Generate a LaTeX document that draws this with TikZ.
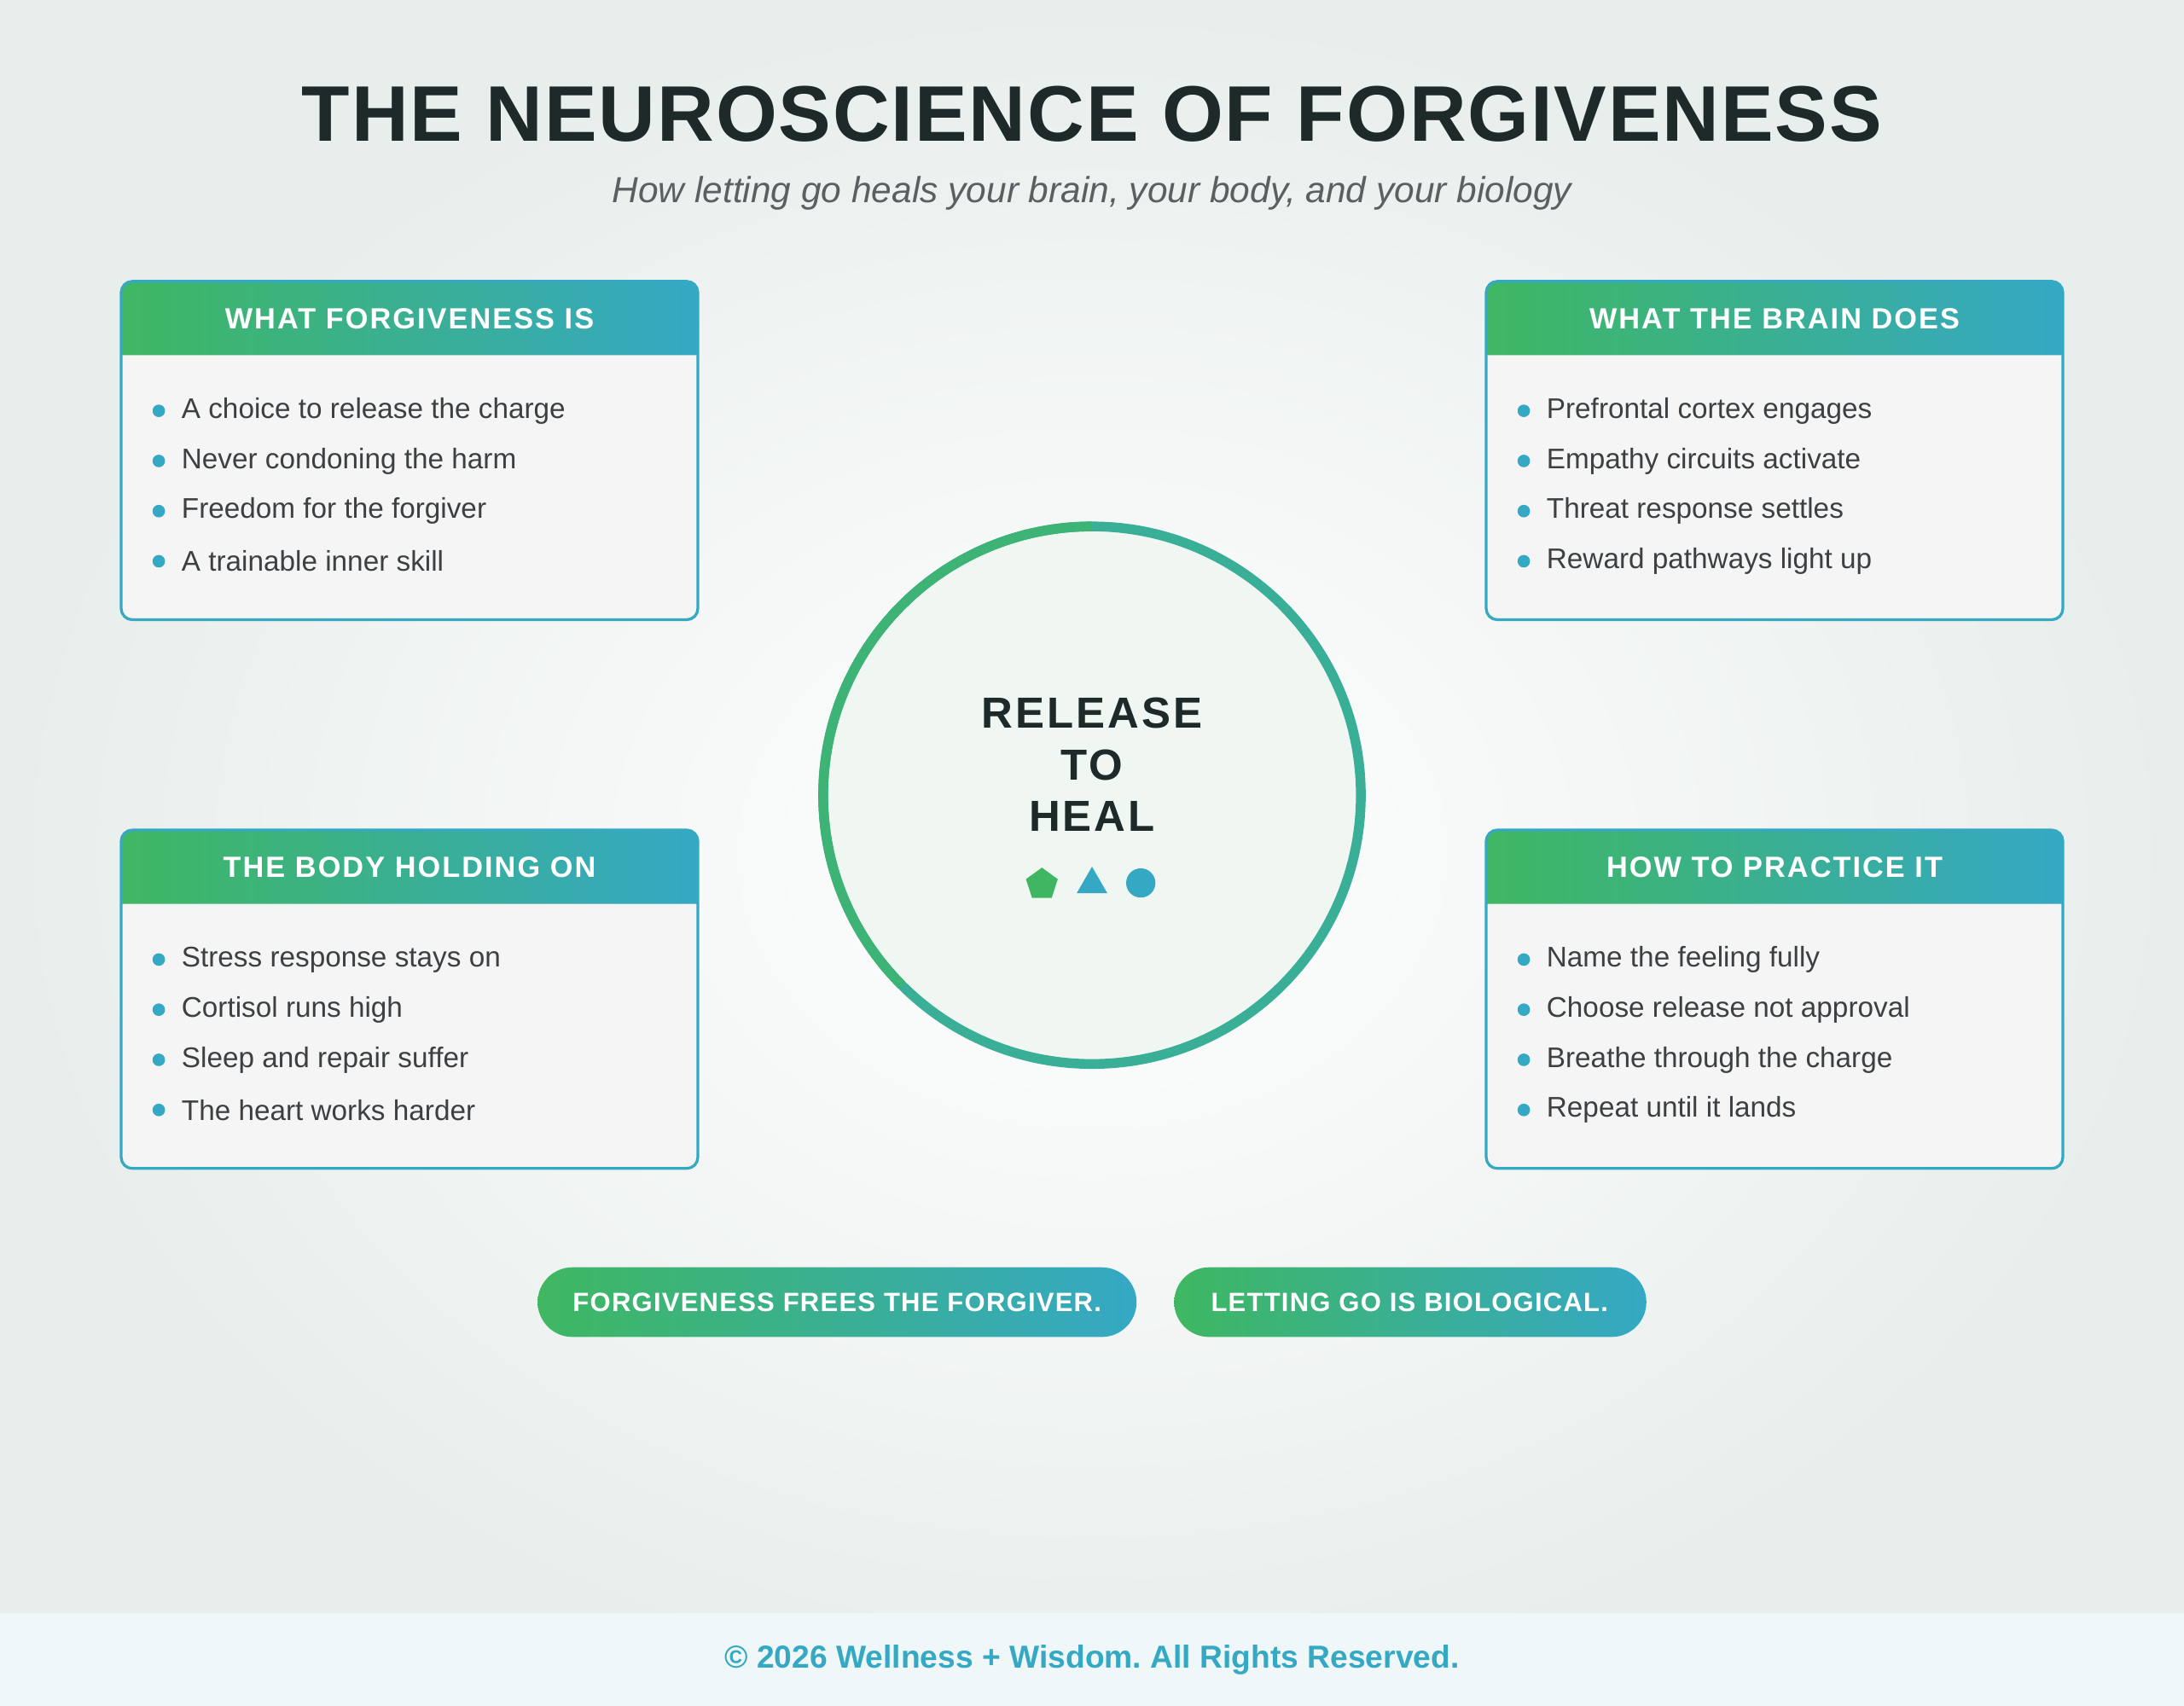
\documentclass[tikz,border=0pt]{standalone}
\usepackage{fontspec}
\setmainfont{Liberation Sans}
\newfontfamily\spacedfont[LetterSpace=6]{Liberation Sans}
\newfontfamily\pillfont[LetterSpace=4]{Liberation Sans}
\newfontfamily\titlefont[LetterSpace=2]{Liberation Sans}
\usetikzlibrary{positioning,shapes.geometric}
\frenchspacing
\definecolor{leafGreen}{RGB}{63,183,98}
\definecolor{tealBlue}{RGB}{53,168,196}
\definecolor{inkDark}{RGB}{30,42,42}
\definecolor{textGray}{RGB}{60,64,66}
\definecolor{subGray}{RGB}{90,96,98}
\definecolor{cardFill}{RGB}{245,245,245}
\definecolor{footFill}{RGB}{240,247,248}
\definecolor{bgEdge}{RGB}{232,238,236}
\definecolor{coreFill}{RGB}{240,247,242}
\tikzset{
  cardtitle/.style={text=white,font=\spacedfont\bfseries\fontsize{10.5}{12}\selectfont,inner sep=0pt},
  carditem/.style={text=textGray,font=\fontsize{10.2}{12}\selectfont,anchor=west,inner sep=0pt},
  dot/.style={circle,fill=tealBlue,inner sep=0pt,minimum size=4.5pt},
  pill/.style={rounded corners=12.5pt,left color=leafGreen,right color=tealBlue,draw=none},
  pilltext/.style={text=white,font=\pillfont\bfseries\fontsize{9.5}{11}\selectfont,inner sep=0pt}
}
% one card: name, left x, top y, title, items
\newcommand{\infocard}[5]{%
  \fill[cardFill,rounded corners=4pt] (#2,#3) rectangle (#2+414,#3+243);
  \shade[left color=leafGreen,right color=tealBlue] (#2,#3+53) {[rounded corners=4pt] -- (#2,#3) -- (#2+414,#3)} -- (#2+414,#3+53) -- cycle;
  \draw[tealBlue,line width=1pt,rounded corners=4pt] (#2,#3) rectangle (#2+414,#3+243);
  \node[cardtitle] (#1-title) at (#2+207,#3+27) {#4};
  \foreach \txt [count=\i] in {#5} {
    \node[dot] (#1-dot\i) at (#2+27,#3+57+36*\i) {};
    \node[carditem] (#1-item\i) at (#2+43,#3+57+36*\i) {\txt};
  }%
}
\begin{document}
\begin{tikzpicture}[x=0.5pt,y=-0.5pt]
% background
\shade[inner color=white,outer color=bgEdge] (0,0) rectangle (1568,1225);
\path[use as bounding box] (0,0) rectangle (1568,1225);
\fill[footFill] (0,1158) rectangle (1568,1225);

% heading
\node[text=inkDark,font=\titlefont\bfseries\fontsize{28.3}{34}\selectfont] (title) at (784,82) {THE NEUROSCIENCE OF FORGIVENESS};
\node[text=subGray,font=\itshape\fontsize{13}{15}\selectfont] (subtitle) at (784,139) {How letting go heals your brain, your body, and your biology};

% cards
\infocard{what}{87}{202}{WHAT FORGIVENESS IS}{A choice to release the charge,Never condoning the harm,Freedom for the forgiver,A trainable inner skill}
\infocard{brain}{1067}{202}{WHAT THE BRAIN DOES}{Prefrontal cortex engages,Empathy circuits activate,Threat response settles,Reward pathways light up}
\infocard{body}{87}{596}{THE BODY HOLDING ON}{Stress response stays on,Cortisol runs high,Sleep and repair suffer,The heart works harder}
\infocard{practice}{1067}{596}{HOW TO PRACTICE IT}{Name the feeling fully,Choose release not approval,Breathe through the charge,Repeat until it lands}

% centre circle
\fill[coreFill] (784,571) circle (193);
\draw[line width=3.5pt,leafGreen!45!tealBlue] (784,571) circle (193);
\draw[line width=3.5pt,leafGreen!80!tealBlue] (784,571) ++(270:193) arc (270:135:193);
\node[text=inkDark,font=\spacedfont\bfseries\fontsize{15.6}{18.5}\selectfont,align=center] (core) at (784,549) {RELEASE\\TO\\HEAL};
\node[regular polygon,regular polygon sides=5,fill=leafGreen,inner sep=0pt,minimum size=12pt] (pentagon) at (748,635) {};
\node[isosceles triangle,shape border rotate=90,isosceles triangle apex angle=60,fill=tealBlue,inner sep=0pt,minimum height=9.5pt] (triangle) at (784,635) {};
\node[circle,fill=tealBlue,inner sep=0pt,minimum size=10.5pt] (disc) at (819,634) {};

% pills
\shade[pill] (386,910) rectangle (816,960);
\node[pilltext] (pillA) at (601,935) {FORGIVENESS FREES THE FORGIVER.};
\shade[pill] (843,910) rectangle (1182,960);
\node[pilltext] (pillB) at (1012,935) {LETTING GO IS BIOLOGICAL.};

% footer
\node[text=tealBlue,font=\bfseries\fontsize{11.4}{13}\selectfont] (footer) at (784,1192) {© 2026 Wellness + Wisdom. All Rights Reserved.};
\end{tikzpicture}
\end{document}
